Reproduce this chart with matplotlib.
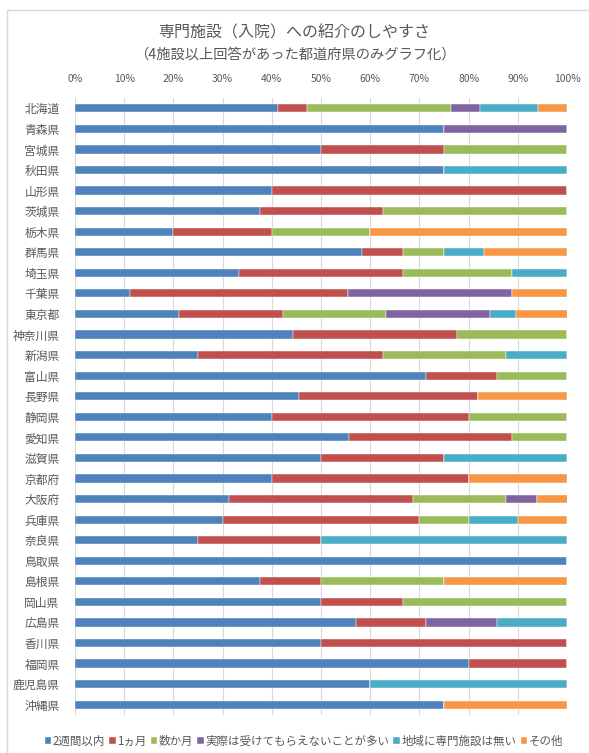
import numpy as np
import matplotlib
matplotlib.use("Agg")
import matplotlib.pyplot as plt
from matplotlib.patches import Rectangle
from matplotlib.ticker import FuncFormatter

plt.rcParams['font.family'] = ['Noto Sans CJK JP', 'DejaVu Sans']

prefectures = ["北海道", "青森県", "宮城県", "秋田県", "山形県", "茨城県", "栃木県", "群馬県",
               "埼玉県", "千葉県", "東京都", "神奈川県", "新潟県", "富山県", "長野県", "静岡県",
               "愛知県", "滋賀県", "京都府", "大阪府", "兵庫県", "奈良県", "鳥取県", "島根県",
               "岡山県", "広島県", "香川県", "福岡県", "鹿児島県", "沖縄県"]

series_names = ["2週間以内", "1ヵ月", "数か月", "実際は受けてもらえないことが多い",
                "地域に専門施設は無い", "その他"]

# percent values, one list per series
within_2_weeks = [41.2, 75.0, 50.0, 75.0, 40.0, 37.5, 20.0, 58.3, 33.3, 11.1,
                  21.1, 44.4, 25.0, 71.4, 45.5, 40.0, 55.6, 50.0, 40.0, 31.3,
                  30.0, 25.0, 100.0, 37.5, 50.0, 57.1, 50.0, 80.0, 60.0, 75.0]
one_month      = [5.9, 0.0, 25.0, 0.0, 60.0, 25.0, 20.0, 8.3, 33.3, 44.4,
                  21.1, 33.3, 37.5, 14.3, 36.4, 40.0, 33.3, 25.0, 40.0, 37.5,
                  40.0, 25.0, 0.0, 12.5, 16.7, 14.3, 50.0, 20.0, 0.0, 0.0]
few_months     = [29.4, 0.0, 25.0, 0.0, 0.0, 37.5, 20.0, 8.3, 22.2, 0.0,
                  21.1, 22.2, 25.0, 14.3, 0.0, 20.0, 11.1, 0.0, 0.0, 18.8,
                  10.0, 0.0, 0.0, 25.0, 33.3, 0.0, 0.0, 0.0, 0.0, 0.0]
often_refused  = [5.9, 25.0, 0.0, 0.0, 0.0, 0.0, 0.0, 0.0, 0.0, 33.3,
                  21.1, 0.0, 0.0, 0.0, 0.0, 0.0, 0.0, 0.0, 0.0, 6.3,
                  0.0, 0.0, 0.0, 0.0, 0.0, 14.3, 0.0, 0.0, 0.0, 0.0]
no_facility    = [11.8, 0.0, 0.0, 25.0, 0.0, 0.0, 0.0, 8.3, 11.1, 0.0,
                  5.3, 0.0, 12.5, 0.0, 0.0, 0.0, 0.0, 25.0, 0.0, 0.0,
                  10.0, 50.0, 0.0, 0.0, 0.0, 14.3, 0.0, 0.0, 40.0, 0.0]
other          = [5.9, 0.0, 0.0, 0.0, 0.0, 0.0, 40.0, 16.7, 0.0, 11.1,
                  10.5, 0.0, 0.0, 0.0, 18.2, 0.0, 0.0, 0.0, 20.0, 6.3,
                  10.0, 0.0, 0.0, 25.0, 0.0, 0.0, 0.0, 0.0, 0.0, 25.0]

series_values = [within_2_weeks, one_month, few_months, often_refused, no_facility, other]

colors = ["#4F81BD", "#C0504D", "#9BBB59", "#8064A2", "#4BACC6", "#F79646"]
text_color = "#595959"

fig = plt.figure(figsize=(5.89, 7.53), dpi=100)
ax = fig.add_axes([75 / 589, 1 - 715 / 753, 492 / 589, 617 / 753])

y = np.arange(len(prefectures))
left = np.zeros(len(prefectures))
for name, values, color in zip(series_names, series_values, colors):
    values = np.array(values)
    ax.barh(y, values, left=left, height=0.4, color=color, label=name,
            edgecolor="white", linewidth=0.3, zorder=3)
    left = left + values

ax.set_xlim(0, 100)
ax.set_ylim(len(prefectures) - 0.5, -0.5)
ax.set_yticks(y)
ax.set_yticklabels(prefectures, fontsize=8.5, color=text_color)
ax.set_xticks(np.arange(0, 101, 10))
ax.xaxis.set_major_formatter(FuncFormatter(lambda v, p: "{0:.0f}%".format(v)))
ax.xaxis.tick_top()
ax.tick_params(axis='x', labelsize=7.5, labelcolor=text_color, length=0, pad=10)
ax.tick_params(axis='y', length=0, pad=11)
ax.grid(axis='x', color="#D9D9D9", linewidth=0.8, zorder=0)
for spine in ax.spines.values():
    spine.set_visible(False)

fig.text(0.5, 1 - 33 / 753, "専門施設（入院）への紹介のしやすさ", ha='center', va='center',
         fontsize=11.5, color=text_color)
fig.text(0.5, 1 - 55 / 753, "（4施設以上回答があった都道府県のみグラフ化）", ha='center', va='center',
         fontsize=10.3, color=text_color)

leg = fig.legend(loc='center', bbox_to_anchor=(304 / 589, 1 - 741 / 753), ncol=6,
                 frameon=False, fontsize=8.3, handlelength=0.55, handleheight=0.55,
                 handletextpad=0.15, columnspacing=0.35, borderaxespad=0)
for text in leg.get_texts():
    text.set_color(text_color)

# chart frame
fig.patches.append(Rectangle((7 / 589, -0.05), 1.2, 1 - 10 / 753 + 0.05,
                             transform=fig.transFigure, fill=False,
                             edgecolor="#D9D9D9", linewidth=1.0))

plt.savefig("out.png", dpi=100)
plt.close('all')
